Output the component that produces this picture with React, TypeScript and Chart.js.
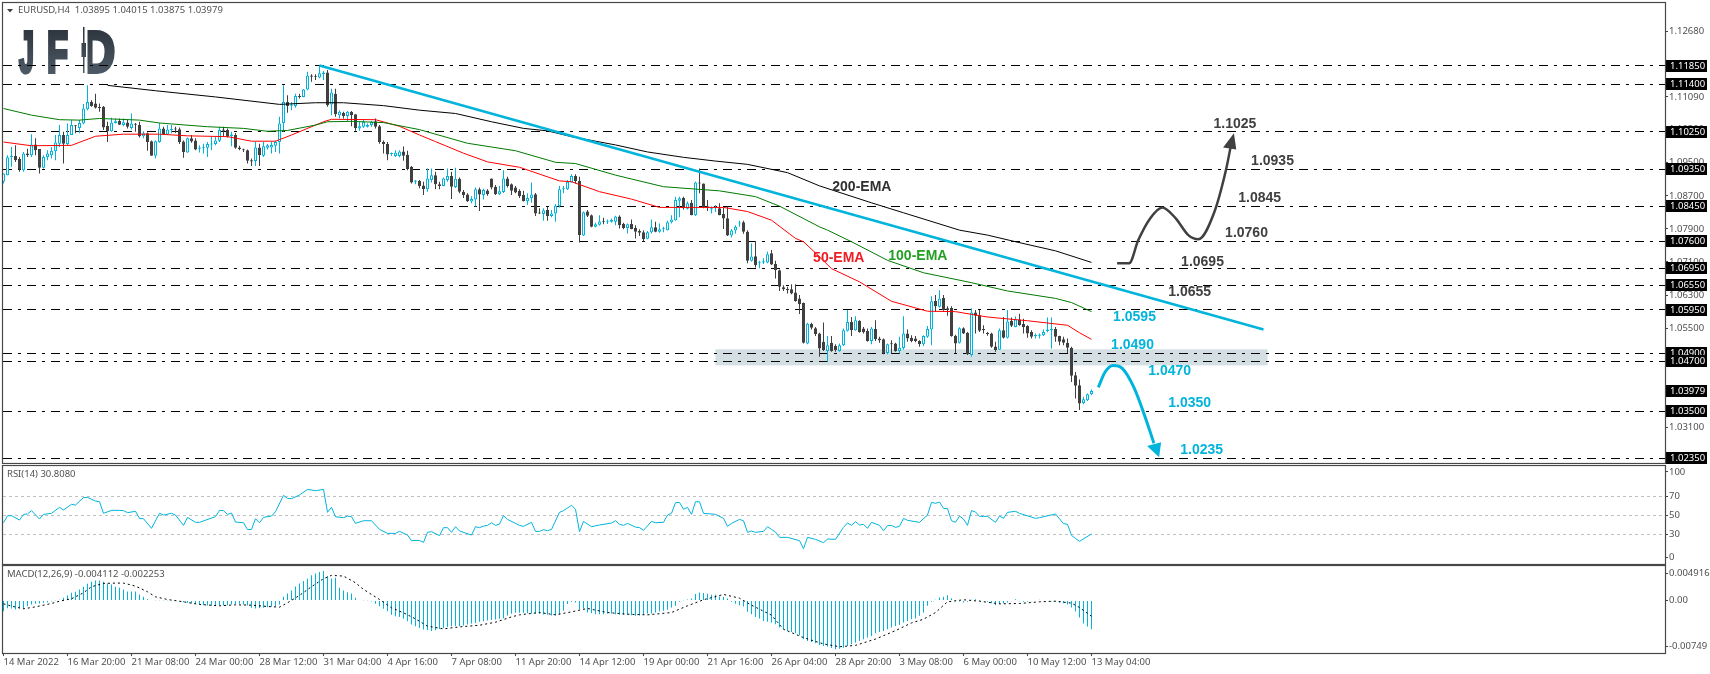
import { useEffect, useRef } from 'react';
import { Chart, registerables } from 'chart.js';

Chart.register(...registerables);

// EURUSD H4 candles, open / high / low / close in price x 10000
const ohlc: number[][] = [
  [10904,10924,10900,10924],[10920,10968,10920,10963],[10963,10988,10940,10967],[10966,10992,10952,10956],[10959,10964,10928,10934],
  [10932,10976,10928,10972],[10972,10984,10964,10968],[10968,11019,10964,10994],[10994,11009,10968,10980],[10983,10983,10924,10938],
  [10938,10968,10936,10964],[10963,10980,10956,10972],[10968,10988,10960,10979],[10978,11017,10956,10999],[10996,11041,10988,11017],
  [11017,11025,10948,10996],[10995,11045,10991,11017],[11017,11053,11017,11041],[11040,11041,11021,11038],[11034,11053,11021,11046],
  [11045,11092,11043,11081],[11079,11137,11077,11097],[11097,11101,11085,11087],[11093,11117,11081,11083],[11083,11093,11073,11082],
  [11085,11087,11029,11035],[11039,11049,11000,11026],[11026,11059,11025,11047],[11046,11057,11045,11050],[11051,11057,11041,11042],
  [11041,11057,11038,11048],[11047,11053,11033,11037],[11034,11069,11030,11045],[11044,11046,11025,11042],[11041,11049,11011,11014],
  [11014,11026,11009,11021],[11021,11023,10979,11000],[11002,11004,10967,10967],[10967,11004,10960,11002],[11000,11046,10998,11033],
  [11033,11037,11017,11018],[11018,11041,11017,11030],[11029,11041,11021,11031],[11033,11037,11022,11030],[11031,11035,10995,11000],
  [11001,11004,10962,10976],[10975,11011,10974,11009],[11009,11017,10998,11001],[11004,11009,10980,10982],[10984,10992,10975,10987],
  [10985,10996,10972,10987],[10986,11000,10964,10995],[10994,11013,10980,10996],[10995,11013,10992,11004],[11003,11037,11000,11029],
  [11030,11037,11013,11027],[11029,11033,11011,11013],[11014,11025,10990,11018],[11017,11022,10984,10986],[10987,10991,10980,10983],
  [10982,10984,10976,10980],[10980,10982,10948,10955],[10956,10960,10942,10953],[10954,11000,10942,10987],[10987,10996,10942,10968],
  [10967,11000,10964,10990],[10986,10995,10982,10992],[10987,11000,10972,10993],[10991,11004,10976,11000],[11000,11061,10972,11045],
  [11046,11137,11025,11097],[11097,11113,11071,11087],[11088,11097,11077,11091],[11087,11117,11083,11111],[11111,11117,11105,11109],
  [11109,11128,11108,11127],[11127,11170,11125,11161],[11161,11164,11146,11158],[11159,11164,11150,11158],[11156,11185,11154,11166],
  [11164,11172,11150,11168],[11168,11174,11085,11089],[11091,11129,11065,11120],[11117,11129,11061,11067],[11065,11077,11057,11073],
  [11071,11073,11057,11063],[11063,11075,11051,11073],[11073,11075,11038,11065],[11067,11067,11027,11034],[11033,11049,11027,11038],
  [11037,11053,11034,11049],[11037,11045,11035,11042],[11041,11051,11037,11049],[11050,11057,11033,11037],[11038,11041,10996,11000],
  [11000,11004,10972,10995],[10995,11000,10956,10970],[10971,10975,10966,10972],[10966,10980,10964,10974],[10966,10980,10963,10977],
  [10977,10989,10955,10967],[10969,10979,10932,10935],[10940,10942,10900,10902],[10904,10908,10898,10907],[10906,10908,10888,10894],
  [10895,10904,10872,10886],[10886,10936,10880,10912],[10908,10936,10902,10920],[10920,10928,10886,10898],[10898,10904,10886,10894],
  [10894,10914,10893,10912],[10908,10936,10904,10918],[10918,10928,10862,10892],[10891,10938,10889,10911],[10911,10914,10876,10880],
  [10880,10884,10865,10872],[10873,10876,10855,10857],[10856,10869,10852,10862],[10861,10890,10844,10886],[10886,10890,10833,10873],
  [10872,10887,10861,10884],[10883,10886,10870,10874],[10912,10912,10886,10890],[10892,10896,10872,10874],[10874,10894,10872,10881],
  [10879,10932,10877,10912],[10912,10916,10890,10894],[10898,10900,10872,10882],[10890,10894,10876,10878],[10882,10886,10865,10869],
  [10872,10882,10856,10857],[10857,10876,10848,10865],[10865,10902,10853,10873],[10874,10877,10821,10827],[10829,10840,10826,10827],
  [10826,10840,10810,10835],[10836,10844,10810,10821],[10821,10836,10818,10827],[10827,10850,10807,10846],[10845,10894,10842,10886],
  [10886,10894,10876,10888],[10886,10908,10884,10904],[10902,10922,10902,10918],[10918,10922,10900,10906],[10906,10916,10757,10775],
  [10774,10832,10773,10830],[10832,10836,10819,10822],[10823,10825,10794,10795],[10795,10805,10794,10801],[10800,10823,10798,10808],
  [10808,10817,10801,10807],[10807,10813,10802,10809],[10807,10815,10805,10812],[10807,10822,10799,10820],[10820,10823,10791,10799],
  [10802,10805,10789,10792],[10792,10803,10779,10801],[10802,10813,10789,10790],[10792,10799,10767,10783],[10785,10789,10773,10781],
  [10782,10787,10759,10765],[10766,10785,10765,10782],[10782,10813,10779,10794],[10794,10807,10782,10783],[10783,10803,10781,10789],
  [10789,10795,10782,10790],[10787,10810,10786,10806],[10806,10823,10803,10813],[10811,10868,10810,10860],[10858,10868,10818,10864],
  [10865,10868,10837,10840],[10839,10856,10837,10852],[10853,10860,10823,10823],[10823,10904,10821,10902],[10902,10936,10876,10900],
  [10900,10900,10840,10842],[10845,10860,10833,10841],[10837,10844,10827,10840],[10840,10848,10831,10841],[10840,10852,10823,10823],
  [10826,10842,10790,10815],[10816,10844,10773,10774],[10774,10790,10769,10786],[10786,10799,10778,10795],[10803,10810,10795,10804],
  [10806,10810,10778,10783],[10783,10787,10707,10713],[10713,10755,10711,10723],[10724,10761,10697,10703],[10707,10713,10695,10709],
  [10709,10719,10705,10712],[10709,10735,10707,10729],[10731,10739,10703,10704],[10705,10713,10670,10690],[10690,10692,10640,10650],
  [10649,10654,10640,10644],[10645,10650,10634,10642],[10644,10656,10632,10634],[10636,10656,10614,10616],[10622,10630,10584,10608],
  [10611,10612,10513,10515],[10513,10563,10511,10561],[10561,10563,10547,10551],[10550,10553,10531,10536],[10537,10539,10481,10501],
  [10517,10564,10495,10497],[10495,10531,10469,10509],[10515,10531,10493,10495],[10507,10511,10493,10497],[10495,10513,10493,10509],
  [10509,10549,10507,10545],[10544,10594,10542,10565],[10565,10577,10531,10545],[10545,10579,10544,10569],[10568,10569,10539,10541],
  [10549,10553,10537,10540],[10543,10549,10517,10519],[10519,10553,10511,10549],[10548,10569,10519,10523],[10525,10529,10515,10521],
  [10523,10525,10487,10489],[10490,10513,10487,10511],[10513,10521,10489,10511],[10513,10515,10493,10495],[10495,10529,10489,10503],
  [10502,10579,10498,10537],[10537,10547,10517,10525],[10527,10533,10516,10519],[10525,10531,10516,10519],[10519,10521,10505,10512],
  [10511,10533,10507,10531],[10529,10555,10527,10548],[10547,10627,10509,10615],[10616,10630,10590,10603],[10602,10642,10600,10622],
  [10623,10630,10592,10594],[10598,10603,10580,10594],[10599,10603,10529,10531],[10532,10534,10490,10513],[10515,10552,10513,10550],
  [10550,10552,10536,10537],[10539,10541,10485,10487],[10485,10598,10481,10588],[10588,10594,10537,10580],[10581,10594,10541,10544],
  [10548,10557,10537,10545],[10537,10541,10532,10536],[10537,10539,10503,10505],[10506,10517,10493,10497],[10498,10549,10497,10545],
  [10545,10577,10525,10527],[10527,10594,10525,10566],[10568,10576,10553,10556],[10553,10579,10552,10571],[10571,10585,10556,10557],
  [10560,10573,10537,10552],[10555,10557,10527,10537],[10541,10545,10525,10529],[10531,10537,10525,10533],[10532,10537,10525,10535],
  [10533,10547,10531,10541],[10543,10576,10540,10547],[10545,10576,10501,10548],[10548,10553,10517,10529],[10531,10532,10509,10517],
  [10523,10529,10509,10515],[10515,10525,10490,10503],[10503,10505,10420,10435],[10436,10444,10380,10411],[10412,10426,10352,10368],
  [10369,10384,10366,10378],[10376,10392,10374,10390],[10390,10402,10388,10398],
];

const ema200Idx = [26,38,53,69,78,85,95,104,113,122,130,136,142,153,161,170,178,186,196,204,217,225,239,246,253,263,272];
const ema200 = [11137,11124,11109,11091,11095,11095,11088,11077,11069,11049,11033,11027,11013,10993,10976,10963,10954,10946,10926,10894,10853,10829,10787,10775,10759,10737,10709];
const ema100Idx = [0,7,14,19,24,34,39,51,60,66,71,78,81,87,95,104,116,128,138,143,153,165,179,188,194,204,206,212,221,230,242,251,263,267,272];
const ema100 = [11081,11065,11054,11053,11057,11053,11046,11037,11033,11026,11028,11041,11049,11050,11047,11030,10997,10979,10951,10948,10920,10892,10882,10868,10845,10795,10787,10759,10714,10684,10660,10640,10622,10612,10590];
const ema50Idx = [0,7,17,23,30,39,46,56,62,68,72,80,82,93,99,104,108,115,121,129,139,142,149,157,164,172,180,186,192,198,200,203,207,214,222,231,238,246,256,266,269,272];
const ema50 = [11000,10991,10992,11014,11019,11019,11015,11013,11002,11002,11017,11049,11055,11054,11038,11017,11001,10973,10952,10939,10906,10904,10880,10862,10842,10842,10842,10832,10811,10767,10759,10732,10694,10662,10615,10591,10590,10577,10568,10557,10539,10523];

const levels = [11185,11140,11025,10935,10845,10760,10695,10655,10595,10490,10470,10350,10235];
const priceBoxes = [11185,11140,11025,10935,10845,10760,10695,10655,10595,10490,10470,10397.9,10350,10235];
const priceTicks = [1.1268,1.1189,1.1109,1.103,1.095,1.087,1.079,1.071,1.063,1.055,1.047,1.039,1.031,1.023];

const trendIdx = [79,315];
const trendPrice = [11185,10547];
const upArrowIdx = [278.4,281.4,283.7,286.7,289.7,293,296.2,298.7,302.6,305.6,307.1];
const upArrowPrice = [10707,10707,10763,10816,10842,10816,10775,10765,10828,10932,11004];
const downArrowIdx = [273.7,275.4,277.4,279.7,282.6,285.1,287.6];
const downArrowPrice = [10407,10444,10460,10453,10407,10344,10272];

const rsiIdx = [0,1,2,4,5,6,7,9,10,12,14,15,17,18,20,21,23,24,25,27,29,30,31,33,34,35,37,39,40,42,43,45,46,48,49,53,54,55,56,57,58,60,61,62,63,64,65,67,68,70,71,72,74,76,78,80,81,82,83,85,86,87,88,90,92,94,96,98,99,101,102,104,105,106,107,109,110,111,112,113,114,117,118,119,120,121,122,123,124,125,126,129,130,132,133,134,135,136,137,139,140,142,143,144,145,147,149,152,153,154,155,156,158,159,160,162,163,165,166,167,168,169,170,171,172,173,174,175,178,180,181,182,184,185,186,187,188,190,191,192,193,194,196,199,200,201,203,205,206,208,210,211,212,213,214,215,216,217,219,220,221,222,223,224,225,226,229,231,232,233,234,235,236,237,238,239,240,241,242,243,244,246,248,249,250,251,253,254,258,259,263,265,266,267,268,269,272];
const rsiValues = [42.6,50,50,45.4,51.4,51.8,55.3,46.5,51.4,52.5,58.8,56,62,61.2,69,69.3,65.4,64.7,52.5,55.6,55.6,55.3,53.2,54.6,47.2,46.8,36.7,52.5,50.7,52.5,50.7,39.8,48.2,43,43,49,55.6,55.3,51.4,52.8,43.3,42.6,35.3,35.6,46.8,42.6,48.2,49.6,54.2,71.4,68.2,67.9,71.8,77.7,76.3,77.7,53.5,58.8,48.9,47.9,49.6,48.9,41.9,44.7,44.7,35.6,31.4,31.4,33.5,29.6,23.7,24,21.9,32.5,33.2,29,37.4,37.4,32.5,38.4,33.9,29.6,38.4,37.4,39.1,39.8,42.6,39.8,41.2,50,46.1,39.8,38.8,43,33.5,33.5,35.3,34.2,35.6,53.5,55.3,60.9,56.7,33.2,44,38.4,40.2,42.3,44.7,40.9,39.8,41.9,38,37.4,34.6,44,42.6,43,50.7,52.5,63.7,64,56.7,58.8,51.4,64.7,64.7,52.5,51.4,47.2,38.8,41.9,46.1,44.7,32.5,33.9,32.5,33.5,38.4,35.6,32.8,27.2,27.2,23.7,15.3,27.2,25.1,21.6,25.4,25.1,37.7,42.3,39.8,43.7,40.2,40.9,36.7,43,39.8,34.2,39.5,39.8,37.7,38.8,47.2,45.1,43,50.7,64,63,64.4,57.7,57.4,44.7,43,49.6,46.5,39.8,55.3,53.9,49.3,49.3,43,49.6,47.2,53.5,54.6,52.5,47.2,47.9,51.8,41.6,41,29.3,26,23,30.8];
const rsiLevels = [70,50,30];

// MACD values x 100000
const macdHist = [
  -153,-110,-114,-129,-110,-119,-81,-57,-48,-43,-33,-24,-14,-5,10,38,72,110,124,157,196,239,267,286,286,267,243,229,196,181,157,129,129,129,86,52,19,5,-3,2,2,-3,-5,-8,-12,
  -24,-33,-43,-48,-57,-67,-72,-76,-76,-72,-72,-67,-57,-52,-48,-57,-72,-105,-114,-110,-105,-95,-91,-81,-57,52,100,143,200,243,277,310,358,386,405,420,348,315,324,181,143,119,100,38,5,
  -5,-5,-14,-48,-81,-119,-153,-205,-224,-234,-262,-296,-343,-367,-391,-415,-425,-434,-425,-405,-391,-377,-367,-363,-367,-358,-343,-329,-320,-305,-296,-286,-277,-272,-262,-253,-215,-191,-176,-176,
  -176,-181,-186,-191,-191,-200,-205,-215,-215,-196,-148,-52,-19,-29,-124,-114,-172,-181,-196,-196,-196,-186,-186,-196,-205,-205,-205,-210,-219,-215,-205,-186,-186,-172,-157,-148,-134,-100,-76,-19,
  -5,14,29,91,114,105,95,81,81,57,48,29,-19,-48,-67,-86,-162,-196,-234,-258,-291,-305,-315,-339,-386,-410,-434,-448,-467,-496,-553,-577,-591,-611,-634,-649,-658,-677,-696,-687,
  -673,-649,-625,-601,-577,-553,-529,-506,-467,-448,-434,-410,-386,-363,-348,-315,-291,-267,-258,-219,-172,-76,-19,10,43,52,76,33,-10,-14,-29,-19,10,19,-2,-10,-19,-38,-67,-52,
  -38,-29,-10,19,-10,-19,-19,-10,5,10,5,5,-10,-19,-29,-38,-57,-100,-157,-243,-329,-372,-411,
];
const signalIdx = [0,2,5,8,12,14,17,20,22,25,28,30,33,36,38,41,45,49,54,58,62,66,69,71,74,77,80,82,85,88,90,94,97,100,103,106,110,114,119,123,127,129,134,138,142,146,151,156,161,167,171,175,180,184,187,192,195,200,205,209,213,218,223,227,230,233,236,240,244,249,254,259,263,267,269,272];
const signalValues = [-48,-81,-119,-91,-43,-10,24,110,196,243,248,248,205,124,52,14,-19,-57,-76,-62,-67,-86,-95,-33,72,196,310,358,348,253,158,14,-105,-176,-262,-367,-405,-377,-353,-310,-234,-205,-172,-205,-162,-114,-172,-196,-205,-172,-76,10,86,33,-67,-210,-410,-530,-620,-660,-640,-550,-430,-320,-267,-172,-19,10,-10,-48,-43,-19,-10,-38,-100,-225];

const xTickIdx = [0,16,32,48,64,80,96,112,128,144,160,176,192,208,224,240,256,272];
const xTickLabels = ['14 Mar 2022','16 Mar 20:00','21 Mar 08:00','24 Mar 00:00','28 Mar 12:00','31 Mar 04:00','4 Apr 16:00','7 Apr 08:00','11 Apr 20:00','14 Apr 12:00','19 Apr 00:00','21 Apr 16:00','26 Apr 04:00','28 Apr 20:00','3 May 08:00','6 May 00:00','10 May 12:00','13 May 04:00'];

const rsiTicks = [96,70,50,30,6];
const rsiTickLabels = ['100','70','50','30','0'];
const macdTicks = [0.0039,0,-0.00654];
const macdTickLabels = ['0.004916','0.00','-0.00749'];

// text notes on the price pane: text, candle index, price x 10000, colour
const BLUE = '#00b4dc';
const DARK = '#404040';
const notes: [string, number, number, string][] = [
  ['1.1025',302.5,11043,DARK],['1.0935',311.9,10954,DARK],['1.0845',308.7,10864,DARK],['1.0760',305.4,10780,DARK],
  ['1.0695',294.4,10709,DARK],['1.0655',291.2,10636,DARK],['1.0595',277.4,10576,BLUE],['1.0490',276.9,10510,BLUE],
  ['1.0470',286.2,10445,BLUE],['1.0350',291.2,10368,BLUE],['1.0235',294.2,10255,BLUE],
  ['200-EMA',207.2,10891,'#303030'],['100-EMA',221.2,10724,'#23a023'],['50-EMA',202.4,10719,'#ee1c25'],
];

const X_MIN = -0.125;
const X_MAX = 415.375;
const UP = '#00b4dc';
const DOWN = '#404040';
const FONT = '"Noto Sans", sans-serif';
const TEXT = '#505050';

const price = (v: number) => v / 10000;
const pts = (xs: number[], ys: number[], f = (v: number) => v) => xs.map((x, i) => ({ x, y: f(ys[i]) }));

function lineSet(data: any[], color: string, width: number, order: number, extra: any = {}) {
  return { type: 'line', data, borderColor: color, borderWidth: width, pointRadius: 0, tension: 0, order, ...extra };
}

function xScale(show = false) {
  return {
    type: 'linear',
    min: X_MIN,
    max: X_MAX,
    offset: false,
    display: show,
    grid: { drawOnChartArea: false, tickLength: 3, color: '#444', offset: false },
    border: { display: false },
    afterBuildTicks: (s: any) => { s.ticks = xTickIdx.map((value) => ({ value })); },
    afterFit: (s: any) => { if (show) s.height = 21; s.paddingLeft = 0; s.paddingRight = 0; },
    ticks: {
      autoSkip: false,
      maxRotation: 0,
      align: 'start',
      padding: 1,
      color: TEXT,
      font: { family: FONT, size: 9.5 },
      callback: (_v: any, i: number) => xTickLabels[i],
    },
  };
}

function yScale(min: number, max: number, ticks: number[], label: (v: any, i: number) => string) {
  return {
    position: 'right',
    min,
    max,
    grid: { drawOnChartArea: false, tickLength: 3, color: '#444' },
    border: { display: false },
    afterBuildTicks: (s: any) => { s.ticks = ticks.map((value) => ({ value })); },
    afterFit: (s: any) => { s.width = 45; s.paddingTop = 0; s.paddingBottom = 0; },
    ticks: { autoSkip: false, padding: 1, color: TEXT, font: { family: FONT, size: 9.5 }, callback: label },
  };
}

const paneFrame = (title: string, titleX: number, titleY: number) => ({
  id: 'paneFrame',
  afterDraw(chart: any) {
    const { ctx, chartArea: a } = chart;
    ctx.save();
    ctx.strokeStyle = '#484848';
    ctx.lineWidth = 1.2;
    ctx.strokeRect(a.left - 0.5, a.top - 0.5, a.right - a.left + 1, a.bottom - a.top + 1);
    ctx.fillStyle = TEXT;
    ctx.font = `9.5px ${FONT}`;
    ctx.textBaseline = 'middle';
    ctx.fillText(title, titleX, titleY);
    ctx.restore();
  },
});

// horizontal levels, snapped to a pixel row so the dashes stay crisp
const levelLines = (values: number[], color: string, dash: number[]) => ({
  id: 'levelLines',
  beforeDatasetsDraw(chart: any) {
    const { ctx, scales: { y }, chartArea: a } = chart;
    ctx.save();
    ctx.strokeStyle = color;
    ctx.lineWidth = 1;
    ctx.setLineDash(dash);
    values.forEach((v) => {
      const py = Math.floor(y.getPixelForValue(v) + 0.3) + 0.5;
      ctx.beginPath();
      ctx.moveTo(a.left, py);
      ctx.lineTo(a.right, py);
      ctx.stroke();
    });
    ctx.restore();
  },
});

function drawLogo(ctx: CanvasRenderingContext2D) {
  const g = ctx.createLinearGradient(0, 27, 0, 74);
  g.addColorStop(0, '#2c343c');
  g.addColorStop(1, '#4d5a66');
  ctx.save();
  ctx.fillStyle = g;
  ctx.strokeStyle = g;
  ctx.lineWidth = 4;
  ctx.lineJoin = 'miter';
  ctx.font = `bold 58px "Liberation Sans", sans-serif`;
  ctx.textBaseline = 'alphabetic';
  const letters: [string, number, number][] = [['J', 19, 15], ['F', 47, 21], ['D', 81, 34]];
  letters.forEach(([t, x, w]) => {
    ctx.fillText(t, x, 71.5, w);
    ctx.strokeText(t, x, 71.5, w);
  });
  // the stem of the D is a small candle
  ctx.fillStyle = '#ffffff';
  ctx.fillRect(78, 25, 9.5, 51);
  ctx.fillStyle = g;
  ctx.fillRect(83, 27, 1.5, 46);
  ctx.fillRect(81.5, 43, 4.5, 14);
  ctx.restore();
}

const pricePlugin = {
  id: 'priceDecor',
  beforeDatasetsDraw(chart: any) {
    const { ctx, scales: { x, y } } = chart;
    ctx.save();
    ctx.fillStyle = '#d3dfe2';
    ctx.fillRect(x.getPixelForValue(178), y.getPixelForValue(1.0499), x.getPixelForValue(316) - x.getPixelForValue(178), y.getPixelForValue(1.046) - y.getPixelForValue(1.0499));
    ctx.restore();
    drawLogo(ctx);
  },
  afterDatasetsDraw(chart: any) {
    const { ctx, scales: { x, y } } = chart;
    ctx.save();
    // arrow heads
    const heads: [number[][], string][] = [
      [[[307.6, 1.1021], [304.9, 1.0987], [308.2, 1.0982]], DARK],
      [[[288.9, 1.0238], [285.9, 1.0265], [289.4, 1.0274]], BLUE],
    ];
    heads.forEach(([p, c]) => {
      ctx.fillStyle = c;
      ctx.beginPath();
      p.forEach(([i, v], k) => (k ? ctx.lineTo(x.getPixelForValue(i), y.getPixelForValue(v)) : ctx.moveTo(x.getPixelForValue(i), y.getPixelForValue(v))));
      ctx.closePath();
      ctx.fill();
    });
    ctx.textBaseline = 'middle';
    ctx.font = 'bold 14px "Liberation Sans", sans-serif';
    notes.forEach(([t, i, v, c]) => {
      ctx.fillStyle = c;
      ctx.fillText(t, x.getPixelForValue(i), y.getPixelForValue(price(v)));
    });
    ctx.restore();
  },
  afterDraw(chart: any) {
    const { ctx, scales: { y }, chartArea: a } = chart;
    ctx.save();
    // title triangle
    ctx.fillStyle = '#404040';
    ctx.beginPath();
    ctx.moveTo(7, 9);
    ctx.lineTo(13, 9);
    ctx.lineTo(10, 12.5);
    ctx.closePath();
    ctx.fill();
    ctx.textBaseline = 'middle';
    ctx.font = `9.5px ${FONT}`;
    priceBoxes.forEach((v) => {
      const py = y.getPixelForValue(price(v));
      const top = Math.round(Math.min(py - 6, a.bottom - 10.5));
      ctx.fillStyle = '#000';
      ctx.fillRect(a.right + 1, top, 41, 12);
      ctx.fillStyle = '#fff';
      ctx.fillText(price(v).toFixed(5), a.right + 5, top + 6);
    });
    ctx.restore();
  },
};

function priceConfig() {
  return {
    type: 'bar',
    data: {
      datasets: [
        {
          data: ohlc.map((r, i) => ({ x: i, y: [price(r[2]), price(r[1])] })),
          backgroundColor: ohlc.map((r) => (r[3] >= r[0] ? UP : DOWN)),
          barThickness: 1,
          inflateAmount: 0,
          grouped: false,
          order: 6,
        },
        {
          data: ohlc.map((r, i) => ({ x: i, y: [price(r[0]), price(r[3])] })),
          backgroundColor: ohlc.map((r) => (r[3] >= r[0] ? '#ffffff' : DOWN)),
          borderColor: ohlc.map((r) => (r[3] >= r[0] ? UP : DOWN)),
          borderWidth: 1,
          borderSkipped: false,
          barThickness: 3,
          inflateAmount: 0,
          minBarLength: 1,
          grouped: false,
          order: 5,
        },
        lineSet(pts(ema200Idx, ema200, price), '#000000', 1, 3),
        lineSet(pts(ema100Idx, ema100, price), '#007a00', 1, 3),
        lineSet(pts(ema50Idx, ema50, price), '#ff0000', 1, 3),
        lineSet(pts(trendIdx, trendPrice, price), BLUE, 2.5, 2),
        lineSet(pts(upArrowIdx, upArrowPrice, price), DARK, 2.5, 1, { cubicInterpolationMode: 'monotone' }),
        lineSet(pts(downArrowIdx, downArrowPrice, price), BLUE, 3, 1, { cubicInterpolationMode: 'monotone' }),
      ],
    },
    options: {
      responsive: false,
      devicePixelRatio: 1,
      animation: false,
      layout: { padding: { left: 3, top: 3, bottom: 2, right: 0 } },
      plugins: { legend: { display: false }, tooltip: { enabled: false } },
      scales: {
        x: xScale(),
        y: yScale(1.02241, 1.13361, priceTicks, (v: any) => Number(v).toFixed(5)),
      },
    },
    plugins: [
      pricePlugin,
      levelLines(levels.map(price), '#000000', [9, 6, 3, 6]),
      paneFrame('EURUSD,H4  1.03895 1.04015 1.03875 1.03979', 18, 10.5),
    ],
  };
}

function rsiConfig() {
  return {
    type: 'line',
    data: {
      datasets: [lineSet(pts(rsiIdx, rsiValues), BLUE, 1, 1)],
    },
    options: {
      responsive: false,
      devicePixelRatio: 1,
      animation: false,
      layout: { padding: { left: 3, top: 1, bottom: 1, right: 0 } },
      plugins: { legend: { display: false }, tooltip: { enabled: false } },
      scales: {
        x: xScale(),
        y: yScale(-0.84, 102.3, rsiTicks, (_v: any, i: number) => rsiTickLabels[i]),
      },
    },
    plugins: [levelLines(rsiLevels, '#c0c0c0', [3, 3]), paneFrame('RSI(14) 30.8080', 7, 9)],
  };
}

function macdConfig() {
  return {
    type: 'bar',
    data: {
      datasets: [
        {
          data: macdHist.map((v, i) => ({ x: i, y: v / 100000 })),
          backgroundColor: BLUE,
          barThickness: 1,
          inflateAmount: 0,
          order: 2,
        },
        lineSet(pts(signalIdx, signalValues, (v) => v / 100000), '#000000', 1, 1, { borderDash: [2, 3] }),
      ],
    },
    options: {
      responsive: false,
      devicePixelRatio: 1,
      animation: false,
      layout: { padding: { left: 3, top: 1, bottom: 0, right: 0 } },
      plugins: { legend: { display: false }, tooltip: { enabled: false } },
      scales: {
        x: xScale(true),
        y: yScale(-0.00749, 0.004916, macdTicks, (_v: any, i: number) => macdTickLabels[i]),
      },
    },
    plugins: [paneFrame('MACD(12,26,9) -0.004112 -0.002253', 7, 9.5)],
  };
}

function Pane({ top, height, build }: { top: number; height: number; build: () => any }) {
  const canvasRef = useRef<HTMLCanvasElement>(null);

  useEffect(() => {
    if (!canvasRef.current) return;
    const chart = new Chart(canvasRef.current, build());
    return () => chart.destroy();
  }, [build]);

  return <canvas ref={canvasRef} width={1710} height={height} style={{ position: 'absolute', left: 0, top, width: 1710, height }} />;
}

export default function App() {
  return (
    <div style={{ position: 'absolute', left: 0, top: 0, width: 1710, height: 674, background: '#fff', overflow: 'hidden' }}>
      <Pane top={0} height={465} build={priceConfig} />
      <Pane top={465} height={100} build={rsiConfig} />
      <Pane top={565} height={109} build={macdConfig} />
    </div>
  );
}
